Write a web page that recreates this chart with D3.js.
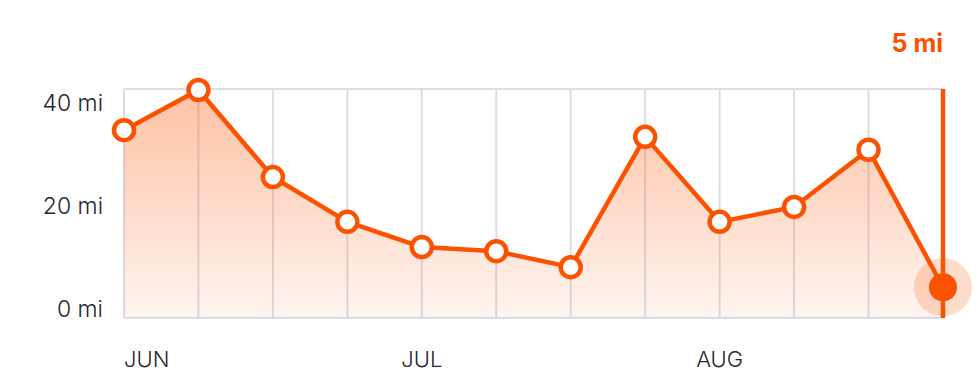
<!DOCTYPE html>
<html>
<head>
<meta charset="utf-8">
<script src="https://cdn.jsdelivr.net/npm/d3@7"></script>
<style>
    body { margin: 0; background: #fff; }
    svg { display: block; font-family: Inter, "Noto Sans", sans-serif; }
</style>
</head>
<body>
<svg id="chart"></svg>
<script>
// weekly distance, in miles
const weeks = d3.range(12);
const distances = [35.5, 43.3, 26.4, 17.7, 12.8, 12.0, 8.9, 34.2, 17.7, 20.6, 31.7, 5];
const yTicks = [0, 20, 40];
const monthLabels = ['JUN', 'JUL', 'AUG'];
const monthWeeks = [0, 4, 8];

class WeeklyChart {
    constructor(_config) {
        this.config = {
            parentElement: _config.parentElement,
            containerWidth: 980,
            containerHeight: 389,
            plotLeft: 124,
            plotRight: 943,
            plotTop: 89,
            plotBottom: 318,
            orange: '#fc5200',
            grid: '#dedce9',
            labelSize: 23
        };
        this.initVis();
    }

    initVis() {
        let vis = this;
        const c = vis.config;

        vis.svg = d3.select(c.parentElement)
            .attr('width', c.containerWidth)
            .attr('height', c.containerHeight);

        vis.x = d3.scalePoint()
            .domain(weeks)
            .range([c.plotLeft, c.plotRight]);

        vis.y = d3.scaleLinear()
            .domain([0, 40])
            .range([313, 107]);

        // gradient under the line
        const grad = vis.svg.append('defs').append('linearGradient')
            .attr('id', 'areaGrad')
            .attr('gradientUnits', 'userSpaceOnUse')
            .attr('x1', 0).attr('x2', 0)
            .attr('y1', c.plotTop).attr('y2', c.plotBottom);
        grad.append('stop').attr('offset', 0).attr('stop-color', c.orange).attr('stop-opacity', 0.36);
        grad.append('stop').attr('offset', 1).attr('stop-color', c.orange).attr('stop-opacity', 0.06);

        vis.updateVis();
    }

    updateVis() {
        let vis = this;
        const c = vis.config;
        const last = weeks[weeks.length - 1];

        // grid
        vis.svg.append('g')
            .selectAll('line')
            .data(weeks.slice(0, -1))
            .join('line')
            .attr('x1', d => vis.x(d)).attr('x2', d => vis.x(d))
            .attr('y1', c.plotTop).attr('y2', c.plotBottom)
            .attr('stroke', c.grid)
            .attr('stroke-width', 2);

        vis.svg.append('g')
            .selectAll('line')
            .data([c.plotTop, c.plotBottom])
            .join('line')
            .attr('x1', c.plotLeft).attr('x2', c.plotRight)
            .attr('y1', d => d).attr('y2', d => d)
            .attr('stroke', c.grid)
            .attr('stroke-width', 2);

        // y labels
        vis.svg.append('g')
            .selectAll('text')
            .data(yTicks)
            .join('text')
            .attr('x', 103)
            .attr('y', d => vis.y(d) + 4)
            .attr('text-anchor', 'end')
            .attr('font-size', c.labelSize)
            .attr('font-weight', 300)
            .attr('fill', '#26262e')
            .text(d => `${d} mi`);

        // month labels
        vis.svg.append('g')
            .selectAll('text')
            .data(monthLabels)
            .join('text')
            .attr('x', (d, i) => vis.x(monthWeeks[i]))
            .attr('y', 367)
            .attr('text-anchor', (d, i) => i === 0 ? 'start' : 'middle')
            .attr('font-size', 22)
            .attr('font-weight', 300)
            .attr('fill', '#26262e')
            .text(d => d);

        const area = d3.area()
            .x((d, i) => vis.x(weeks[i]))
            .y0(c.plotBottom)
            .y1(d => vis.y(d));

        const line = d3.line()
            .x((d, i) => vis.x(weeks[i]))
            .y(d => vis.y(d));

        vis.svg.append('path')
            .attr('d', area(distances))
            .attr('fill', 'url(#areaGrad)');

        vis.svg.append('path')
            .attr('d', line(distances))
            .attr('fill', 'none')
            .attr('stroke', c.orange)
            .attr('stroke-width', 4.5)
            .attr('stroke-linejoin', 'round');

        // current week marker
        const lx = vis.x(last);
        const ly = vis.y(distances[distances.length - 1]);

        vis.svg.append('circle')
            .attr('cx', lx).attr('cy', ly).attr('r', 29)
            .attr('fill', c.orange)
            .attr('fill-opacity', 0.2);

        vis.svg.append('line')
            .attr('x1', lx).attr('x2', lx)
            .attr('y1', c.plotTop).attr('y2', c.plotBottom)
            .attr('stroke', c.orange)
            .attr('stroke-width', 4.5);

        vis.svg.append('g')
            .selectAll('circle')
            .data(distances.slice(0, -1))
            .join('circle')
            .attr('cx', (d, i) => vis.x(weeks[i]))
            .attr('cy', d => vis.y(d))
            .attr('r', 10)
            .attr('fill', '#fff')
            .attr('stroke', c.orange)
            .attr('stroke-width', 4.5);

        vis.svg.append('circle')
            .attr('cx', lx).attr('cy', ly).attr('r', 14)
            .attr('fill', c.orange);

        vis.svg.append('text')
            .attr('x', lx)
            .attr('y', 52)
            .attr('text-anchor', 'end')
            .attr('font-size', 25)
            .attr('font-weight', 700)
            .attr('fill', c.orange)
            .text(`${distances[distances.length - 1]} mi`);
    }
}

new WeeklyChart({ parentElement: '#chart' });
</script>
</body>
</html>
